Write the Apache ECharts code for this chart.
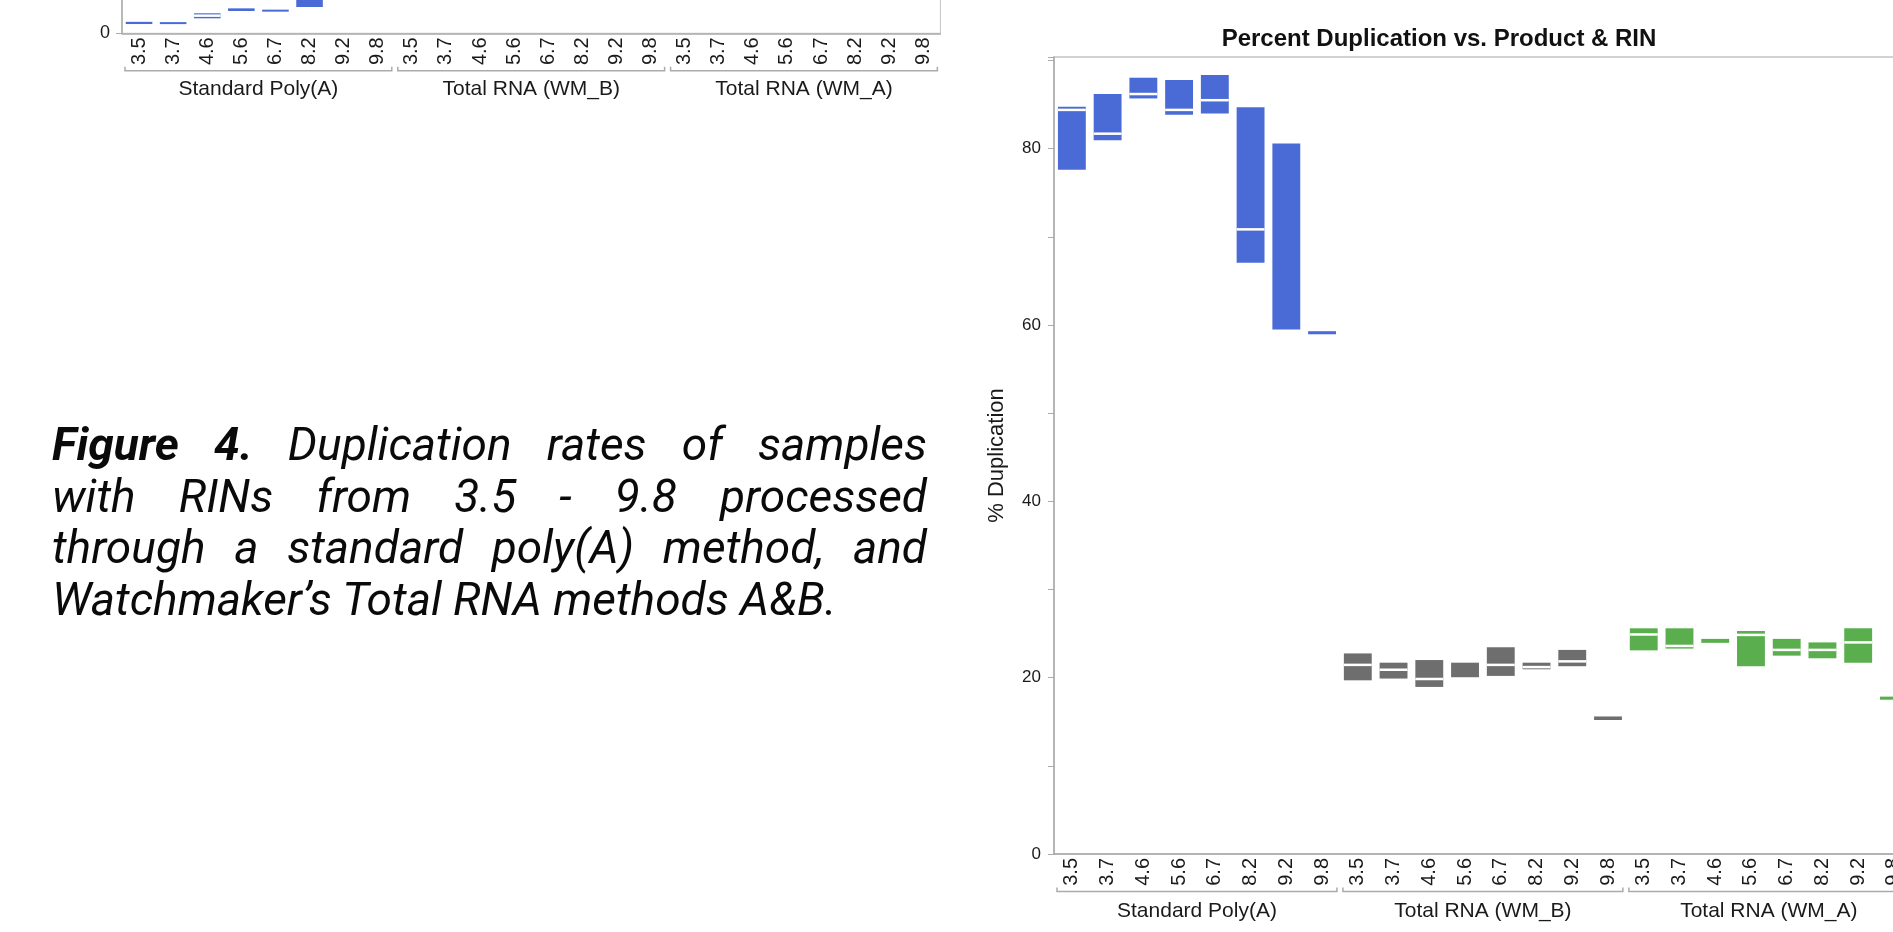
<!DOCTYPE html>
<html>
<head>
<meta charset="utf-8">
<script src="https://cdn.jsdelivr.net/npm/echarts@6/dist/echarts.min.js"></script>
<style>
  html, body { margin: 0; padding: 0; background: #fff; }
  #chart { position: absolute; left: 0; top: 0; width: 1893px; height: 932px; }
  #caption { position: absolute; left: 52px; top: 419px; width: 875px;
    font-family: Roboto, 'Noto Sans', sans-serif; font-style: italic; font-size: 46px;
    line-height: 51.5px; color: #0a0a0a; }
  #caption .j { text-align: justify; text-align-last: justify; }
</style>
</head>
<body>
<div id="chart"></div>
<div id="caption">
  <div class="j"><b>Figure 4.</b> Duplication rates of samples</div>
  <div class="j">with RINs from 3.5 - 9.8 processed</div>
  <div class="j">through a standard poly(A) method, and</div>
  <div>Watchmaker’s Total RNA methods A&amp;B.</div>
</div>
<script>
// ---------- data ----------
const rinLabels  = ['3.5', '3.7', '4.6', '5.6', '6.7', '8.2', '9.2', '9.8'];
const groupNames = ['Standard Poly(A)', 'Total RNA (WM_B)', 'Total RNA (WM_A)'];
const yTicksMain = [0, 20, 40, 60, 80];

// Main chart: % Duplication, each box = low / median / high
const polyA_low    = [77.6, 80.95, 85.7, 83.85, 84.0, 67.05, 59.5, 58.95];
const polyA_median = [84.4, 81.7, 86.2, 84.4, 85.5, 70.85, null, null];
const polyA_high   = [84.75, 86.2, 88.05, 87.8, 88.35, 84.7, 80.6, 59.3];

const wmB_low    = [19.7, 19.9, 18.95, 20.05, 20.2, 20.95, 21.3, 15.2];
const wmB_median = [21.45, 20.9, 19.85, null, 21.45, 21.2, 21.85, null];
const wmB_high   = [22.75, 21.7, 22.0, 21.7, 23.45, 21.7, 23.15, 15.6];

const wmA_low    = [23.1, 23.3, 23.95, 21.3, 22.5, 22.2, 21.7, 17.5];
const wmA_median = [24.9, 23.6, null, 24.85, 23.15, 23.15, 24.0, null];
const wmA_high   = [25.6, 25.6, 24.4, 25.3, 24.4, 24.0, 25.6, 17.85];

// Fragment of the previous chart (top-left, only its bottom is visible)
const frag_polyA_low    = [1.05, 1.05, 1.7, 2.53, 2.49, 2.98, null, null];
const frag_polyA_median = [null, null, 2.0, null, null, null, null, null];
const frag_polyA_high   = [1.3, 1.27, 2.27, 2.83, 2.68, 4.5, null, null];

// ---------- helpers ----------
const categories = groupNames.flatMap(g => rinLabels.map(r => g + '|' + r));

function boxes(groupIdx, low, med, high) {
  const out = [];
  low.forEach((v, i) => {
    if (v == null) return;
    out.push([groupIdx * rinLabels.length + i, v, med[i] == null ? null : med[i], high[i]]);
  });
  return out;
}

function boxRenderer(color) {
  return function (params, api) {
    const x = api.value(0), lo = api.value(1), md = api.value(2), hi = api.value(3);
    const top = api.coord([x, hi]), bot = api.coord([x, lo]);
    const w = api.size([1, 0])[0] * 0.78;
    const children = [{
      type: 'rect',
      shape: { x: top[0] - w / 2, y: top[1], width: w, height: Math.max(bot[1] - top[1], 2) },
      style: { fill: color }
    }];
    if (md != null && !isNaN(md) && md > lo && md < hi) {
      const m = api.coord([x, md]);
      children.push({
        type: 'rect',
        shape: { x: top[0] - w / 2, y: m[1] - 1.25, width: w, height: 2.5 },
        style: { fill: '#ffffff' }
      });
    }
    return { type: 'group', children };
  };
}

function bracketRenderer(params, api) {
  const c = api.coord([api.value(0), 0]);
  const band = api.size([1, 0])[0];
  const y = c[1] + 37.5, x0 = c[0] - band / 2 + 3, x1 = c[0] + band / 2 - 3;
  return {
    type: 'polyline',
    shape: { points: [[x0, y - 4], [x0, y], [x1, y], [x1, y - 4]] },
    style: { stroke: '#ababab', lineWidth: 1.5, fill: null }
  };
}

const FONT = "'Liberation Sans', Arial, Helvetica, sans-serif";
const BLUE = '#4a6bd6', GREY = '#6e6e6e', GREEN = '#5aae4e';
const AXIS = '#ababab';

function rinAxis(gridIndex, margin) {
  return {
    type: 'category', gridIndex, data: categories, position: 'bottom',
    axisLine: { show: true, lineStyle: { color: AXIS, width: 1.5 } },
    axisTick: { show: false },
    axisLabel: { interval: 0, rotate: 90, margin, fontSize: 20, color: '#1a1a1a', fontFamily: FONT,
      formatter: v => v.split('|')[1] },
    splitLine: { show: false }
  };
}
function groupAxis(gridIndex, margin) {
  return {
    type: 'category', gridIndex, data: groupNames, position: 'bottom',
    axisLine: { show: false }, axisTick: { show: false },
    axisLabel: { interval: 0, margin, fontSize: 21, color: '#1a1a1a', fontFamily: FONT },
    splitLine: { show: false }
  };
}

const chart = echarts.init(document.getElementById('chart'), null, { renderer: 'canvas' });
const option = {
  animation: false,
  backgroundColor: '#ffffff',
  grid: [
    { left: 122, top: -760.5, width: 818.4, height: 793.8, show: true, borderColor: '#c4c4c4',
      borderWidth: 1, outerBoundsMode: 'none', containLabel: false },
    { left: 1054, top: 57, width: 857.8, height: 797, show: true, borderColor: '#c4c4c4',
      borderWidth: 1.5, outerBoundsMode: 'none', containLabel: false }
  ],
  xAxis: [
    rinAxis(0, 4),
    groupAxis(0, 45),
    rinAxis(1, 4),
    groupAxis(1, 47)
  ],
  yAxis: [
    { type: 'value', gridIndex: 0, min: 0, max: 90, interval: 20,
      axisLine: { show: true, lineStyle: { color: AXIS, width: 1.5 } },
      axisTick: { show: true, length: 6, lineStyle: { color: AXIS } },
      axisLabel: { margin: 12, fontSize: 18, color: '#1a1a1a', fontFamily: FONT },
      splitLine: { show: false } },
    { type: 'value', gridIndex: 1, min: 0, max: 90.4, interval: 10,
      name: '% Duplication', nameLocation: 'middle', nameGap: 46,
      nameTextStyle: { fontSize: 22, color: '#1a1a1a', fontFamily: FONT },
      axisLine: { show: true, lineStyle: { color: AXIS, width: 1.5 } },
      axisTick: { show: true, length: 6, lineStyle: { color: AXIS } },
      axisLabel: { margin: 13, fontSize: 17, color: '#1a1a1a', fontFamily: FONT,
        formatter: v => (yTicksMain.indexOf(v) >= 0 ? String(v) : '') },
      splitLine: { show: false } }
  ],
  graphic: [
    { type: 'text', x: 1439, y: 39, silent: true,
      style: { text: 'Percent Duplication vs. Product & RIN', fontSize: 24, fontWeight: 'bold',
        fontFamily: FONT, fill: '#111', align: 'center', verticalAlign: 'middle' } }
  ],
  series: [
    { type: 'custom', name: 'frag', xAxisIndex: 0, yAxisIndex: 0, silent: true,
      encode: { x: 0, y: [1, 2, 3] }, renderItem: boxRenderer(BLUE),
      data: boxes(0, frag_polyA_low, frag_polyA_median, frag_polyA_high) },
    { type: 'custom', name: 'fragBrackets', xAxisIndex: 1, yAxisIndex: 0, silent: true,
      encode: { x: 0 }, renderItem: bracketRenderer, data: groupNames.map((g, i) => [i]) },
    { type: 'custom', name: groupNames[0], xAxisIndex: 2, yAxisIndex: 1, silent: true,
      encode: { x: 0, y: [1, 2, 3] }, renderItem: boxRenderer(BLUE),
      data: boxes(0, polyA_low, polyA_median, polyA_high) },
    { type: 'custom', name: groupNames[1], xAxisIndex: 2, yAxisIndex: 1, silent: true,
      encode: { x: 0, y: [1, 2, 3] }, renderItem: boxRenderer(GREY),
      data: boxes(1, wmB_low, wmB_median, wmB_high) },
    { type: 'custom', name: groupNames[2], xAxisIndex: 2, yAxisIndex: 1, silent: true,
      encode: { x: 0, y: [1, 2, 3] }, renderItem: boxRenderer(GREEN),
      data: boxes(2, wmA_low, wmA_median, wmA_high) },
    { type: 'custom', name: 'brackets', xAxisIndex: 3, yAxisIndex: 1, silent: true,
      encode: { x: 0 }, renderItem: bracketRenderer, data: groupNames.map((g, i) => [i]) }
  ]
};
chart.setOption(option);
</script>
</body>
</html>
